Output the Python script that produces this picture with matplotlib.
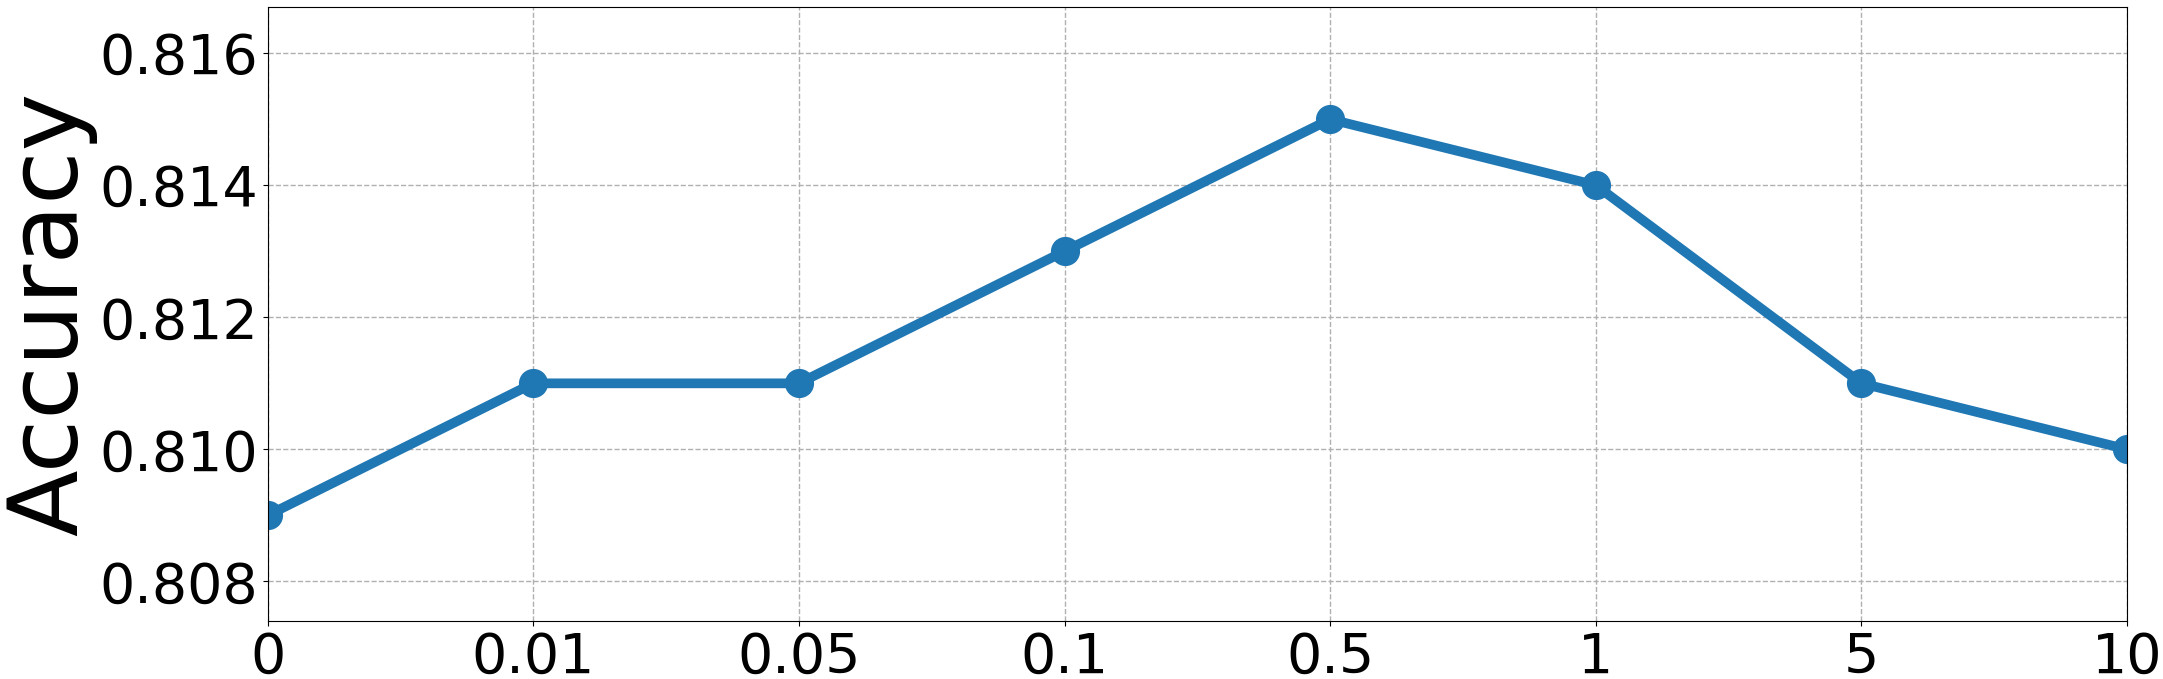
import matplotlib
matplotlib.use("Agg")
import matplotlib.pyplot as plt
import numpy as np

weights  = ["0", "0.01", "0.05", "0.1", "0.5", "1", "5", "10"]
accuracy = [0.809, 0.811, 0.811, 0.813, 0.815, 0.814, 0.811, 0.810]
yticks   = [0.808, 0.810, 0.812, 0.814, 0.816]

fig = plt.figure(figsize=(21.63, 6.79), dpi=100)
ax = fig.add_axes([0.1237, 0.0854, 0.8597, 0.9043])

x = np.arange(len(weights))
ax.plot(x, accuracy, color="#1f77b4", linewidth=7, marker="o", markersize=20)

ax.set_xlim(0, len(weights) - 1)
ax.set_ylim(0.8074, 0.8167)
ax.set_xticks(x)
ax.set_xticklabels(weights)
ax.set_yticks(yticks)
ax.set_yticklabels([f"{v:.3f}" for v in yticks])
ax.tick_params(labelsize=40)
ax.set_ylabel("Accuracy", fontsize=70, labelpad=1)
ax.grid(True, linestyle="--", color="#b0b0b0", linewidth=1)

fig.savefig("out.png", dpi=100)
